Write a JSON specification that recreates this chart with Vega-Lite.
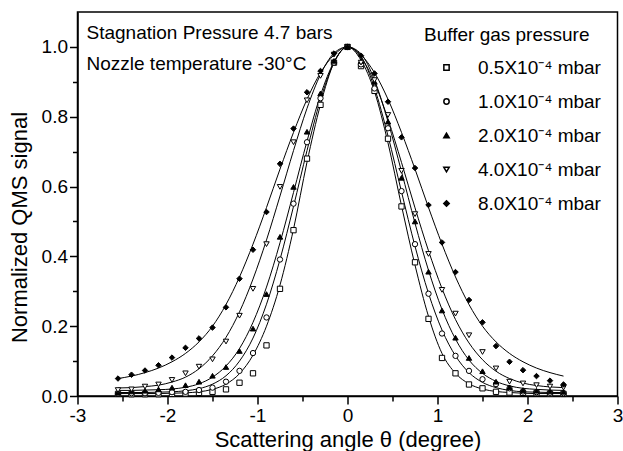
{
 "$schema": "https://vega.github.io/schema/vega-lite/v6.json",
 "width": 540,
 "height": 384,
 "autosize": {"type": "none"},
 "padding": {"left": 77.5, "top": 12, "right": 5.5, "bottom": 55},
 "background": "white",
 "config": {
  "font": "Liberation Sans",
  "view": {"stroke": "black", "strokeWidth": 1.5},
  "axis": {"grid": false, "domainColor": "black", "tickColor": "black", "labelColor": "black", "titleColor": "black", "labelFont": "Liberation Sans", "titleFont": "Liberation Sans", "titleFontWeight": "normal", "domainWidth": 1.5, "tickWidth": 1.5, "labelFlush": false, "labelOverlap": false},
  "legend": {"title": "Buffer gas pressure", "titleFontSize": 19, "titleFontWeight": "normal", "titleFont": "Liberation Sans", "titleColor": "black", "labelFontSize": 19, "labelFont": "Liberation Sans", "labelColor": "black", "rowPadding": 14, "titlePadding": 13, "symbolOffset": 13, "labelOffset": 22}
 },
 "data": {"values": [
  {"series":"0.5X10⁻⁴ mbar","angle":-2.55,"signal":0.006,"fit":0.007},
  {"series":"0.5X10⁻⁴ mbar","angle":-2.4,"signal":0.005,"fit":0.007},
  {"series":"0.5X10⁻⁴ mbar","angle":-2.25,"signal":0.005,"fit":0.007},
  {"series":"0.5X10⁻⁴ mbar","angle":-2.1,"signal":0.005,"fit":0.007},
  {"series":"0.5X10⁻⁴ mbar","angle":-1.95,"signal":0.006,"fit":0.008},
  {"series":"0.5X10⁻⁴ mbar","angle":-1.8,"signal":0.007,"fit":0.009},
  {"series":"0.5X10⁻⁴ mbar","angle":-1.65,"signal":0.009,"fit":0.012},
  {"series":"0.5X10⁻⁴ mbar","angle":-1.5,"signal":0.012,"fit":0.019},
  {"series":"0.5X10⁻⁴ mbar","angle":-1.35,"signal":0.019,"fit":0.034},
  {"series":"0.5X10⁻⁴ mbar","angle":-1.2,"signal":0.038,"fit":0.064},
  {"series":"0.5X10⁻⁴ mbar","angle":-1.05,"signal":0.065,"fit":0.117},
  {"series":"0.5X10⁻⁴ mbar","angle":-0.9,"signal":0.145,"fit":0.2},
  {"series":"0.5X10⁻⁴ mbar","angle":-0.75,"signal":0.307,"fit":0.318},
  {"series":"0.5X10⁻⁴ mbar","angle":-0.6,"signal":0.475,"fit":0.478},
  {"series":"0.5X10⁻⁴ mbar","angle":-0.45,"signal":0.68,"fit":0.67},
  {"series":"0.5X10⁻⁴ mbar","angle":-0.3,"signal":0.834,"fit":0.835},
  {"series":"0.5X10⁻⁴ mbar","angle":-0.15,"signal":0.955,"fit":0.955},
  {"series":"0.5X10⁻⁴ mbar","angle":0,"signal":1.0,"fit":1.0},
  {"series":"0.5X10⁻⁴ mbar","angle":0.15,"signal":0.945,"fit":0.962},
  {"series":"0.5X10⁻⁴ mbar","angle":0.3,"signal":0.874,"fit":0.872},
  {"series":"0.5X10⁻⁴ mbar","angle":0.45,"signal":0.737,"fit":0.725},
  {"series":"0.5X10⁻⁴ mbar","angle":0.6,"signal":0.543,"fit":0.545},
  {"series":"0.5X10⁻⁴ mbar","angle":0.75,"signal":0.383,"fit":0.375},
  {"series":"0.5X10⁻⁴ mbar","angle":0.9,"signal":0.221,"fit":0.228},
  {"series":"0.5X10⁻⁴ mbar","angle":1.05,"signal":0.109,"fit":0.122},
  {"series":"0.5X10⁻⁴ mbar","angle":1.2,"signal":0.065,"fit":0.065},
  {"series":"0.5X10⁻⁴ mbar","angle":1.35,"signal":0.033,"fit":0.035},
  {"series":"0.5X10⁻⁴ mbar","angle":1.5,"signal":0.022,"fit":0.02},
  {"series":"0.5X10⁻⁴ mbar","angle":1.65,"signal":0.012,"fit":0.013},
  {"series":"0.5X10⁻⁴ mbar","angle":1.8,"signal":0.01,"fit":0.01},
  {"series":"0.5X10⁻⁴ mbar","angle":1.95,"signal":0.009,"fit":0.008},
  {"series":"0.5X10⁻⁴ mbar","angle":2.1,"signal":0.008,"fit":0.007},
  {"series":"0.5X10⁻⁴ mbar","angle":2.25,"signal":0.007,"fit":0.007},
  {"series":"0.5X10⁻⁴ mbar","angle":2.4,"signal":0.006,"fit":0.007},

  {"series":"1.0X10⁻⁴ mbar","angle":-2.55,"signal":0.008,"fit":0.01},
  {"series":"1.0X10⁻⁴ mbar","angle":-2.4,"signal":0.008,"fit":0.01},
  {"series":"1.0X10⁻⁴ mbar","angle":-2.25,"signal":0.008,"fit":0.01},
  {"series":"1.0X10⁻⁴ mbar","angle":-2.1,"signal":0.009,"fit":0.011},
  {"series":"1.0X10⁻⁴ mbar","angle":-1.95,"signal":0.011,"fit":0.012},
  {"series":"1.0X10⁻⁴ mbar","angle":-1.8,"signal":0.012,"fit":0.015},
  {"series":"1.0X10⁻⁴ mbar","angle":-1.65,"signal":0.017,"fit":0.021},
  {"series":"1.0X10⁻⁴ mbar","angle":-1.5,"signal":0.024,"fit":0.034},
  {"series":"1.0X10⁻⁴ mbar","angle":-1.35,"signal":0.041,"fit":0.058},
  {"series":"1.0X10⁻⁴ mbar","angle":-1.2,"signal":0.072,"fit":0.1},
  {"series":"1.0X10⁻⁴ mbar","angle":-1.05,"signal":0.123,"fit":0.166},
  {"series":"1.0X10⁻⁴ mbar","angle":-0.9,"signal":0.225,"fit":0.263},
  {"series":"1.0X10⁻⁴ mbar","angle":-0.75,"signal":0.391,"fit":0.391},
  {"series":"1.0X10⁻⁴ mbar","angle":-0.6,"signal":0.551,"fit":0.543},
  {"series":"1.0X10⁻⁴ mbar","angle":-0.45,"signal":0.727,"fit":0.703},
  {"series":"1.0X10⁻⁴ mbar","angle":-0.3,"signal":0.853,"fit":0.849},
  {"series":"1.0X10⁻⁴ mbar","angle":-0.15,"signal":0.955,"fit":0.955},
  {"series":"1.0X10⁻⁴ mbar","angle":0,"signal":1.0,"fit":1.0},
  {"series":"1.0X10⁻⁴ mbar","angle":0.15,"signal":0.95,"fit":0.973},
  {"series":"1.0X10⁻⁴ mbar","angle":0.3,"signal":0.881,"fit":0.882},
  {"series":"1.0X10⁻⁴ mbar","angle":0.45,"signal":0.767,"fit":0.745},
  {"series":"1.0X10⁻⁴ mbar","angle":0.6,"signal":0.587,"fit":0.585},
  {"series":"1.0X10⁻⁴ mbar","angle":0.75,"signal":0.435,"fit":0.429},
  {"series":"1.0X10⁻⁴ mbar","angle":0.9,"signal":0.293,"fit":0.294},
  {"series":"1.0X10⁻⁴ mbar","angle":1.05,"signal":0.179,"fit":0.189},
  {"series":"1.0X10⁻⁴ mbar","angle":1.2,"signal":0.115,"fit":0.115},
  {"series":"1.0X10⁻⁴ mbar","angle":1.35,"signal":0.072,"fit":0.067},
  {"series":"1.0X10⁻⁴ mbar","angle":1.5,"signal":0.048,"fit":0.039},
  {"series":"1.0X10⁻⁴ mbar","angle":1.65,"signal":0.034,"fit":0.024},
  {"series":"1.0X10⁻⁴ mbar","angle":1.8,"signal":0.022,"fit":0.016},
  {"series":"1.0X10⁻⁴ mbar","angle":1.95,"signal":0.013,"fit":0.012},
  {"series":"1.0X10⁻⁴ mbar","angle":2.1,"signal":0.011,"fit":0.011},
  {"series":"1.0X10⁻⁴ mbar","angle":2.25,"signal":0.009,"fit":0.01},
  {"series":"1.0X10⁻⁴ mbar","angle":2.4,"signal":0.008,"fit":0.01},

  {"series":"2.0X10⁻⁴ mbar","angle":-2.55,"signal":0.011,"fit":0.016},
  {"series":"2.0X10⁻⁴ mbar","angle":-2.4,"signal":0.013,"fit":0.016},
  {"series":"2.0X10⁻⁴ mbar","angle":-2.25,"signal":0.015,"fit":0.017},
  {"series":"2.0X10⁻⁴ mbar","angle":-2.1,"signal":0.019,"fit":0.018},
  {"series":"2.0X10⁻⁴ mbar","angle":-1.95,"signal":0.024,"fit":0.02},
  {"series":"2.0X10⁻⁴ mbar","angle":-1.8,"signal":0.031,"fit":0.025},
  {"series":"2.0X10⁻⁴ mbar","angle":-1.65,"signal":0.041,"fit":0.035},
  {"series":"2.0X10⁻⁴ mbar","angle":-1.5,"signal":0.058,"fit":0.054},
  {"series":"2.0X10⁻⁴ mbar","angle":-1.35,"signal":0.083,"fit":0.086},
  {"series":"2.0X10⁻⁴ mbar","angle":-1.2,"signal":0.129,"fit":0.136},
  {"series":"2.0X10⁻⁴ mbar","angle":-1.05,"signal":0.193,"fit":0.211},
  {"series":"2.0X10⁻⁴ mbar","angle":-0.9,"signal":0.292,"fit":0.312},
  {"series":"2.0X10⁻⁴ mbar","angle":-0.75,"signal":0.456,"fit":0.439},
  {"series":"2.0X10⁻⁴ mbar","angle":-0.6,"signal":0.599,"fit":0.583},
  {"series":"2.0X10⁻⁴ mbar","angle":-0.45,"signal":0.757,"fit":0.73},
  {"series":"2.0X10⁻⁴ mbar","angle":-0.3,"signal":0.867,"fit":0.862},
  {"series":"2.0X10⁻⁴ mbar","angle":-0.15,"signal":0.96,"fit":0.957},
  {"series":"2.0X10⁻⁴ mbar","angle":0,"signal":1.0,"fit":1.0},
  {"series":"2.0X10⁻⁴ mbar","angle":0.15,"signal":0.96,"fit":0.98},
  {"series":"2.0X10⁻⁴ mbar","angle":0.3,"signal":0.9,"fit":0.905},
  {"series":"2.0X10⁻⁴ mbar","angle":0.45,"signal":0.786,"fit":0.786},
  {"series":"2.0X10⁻⁴ mbar","angle":0.6,"signal":0.625,"fit":0.643},
  {"series":"2.0X10⁻⁴ mbar","angle":0.75,"signal":0.5,"fit":0.495},
  {"series":"2.0X10⁻⁴ mbar","angle":0.9,"signal":0.356,"fit":0.36},
  {"series":"2.0X10⁻⁴ mbar","angle":1.05,"signal":0.245,"fit":0.248},
  {"series":"2.0X10⁻⁴ mbar","angle":1.2,"signal":0.167,"fit":0.163},
  {"series":"2.0X10⁻⁴ mbar","angle":1.35,"signal":0.109,"fit":0.103},
  {"series":"2.0X10⁻⁴ mbar","angle":1.5,"signal":0.071,"fit":0.065},
  {"series":"2.0X10⁻⁴ mbar","angle":1.65,"signal":0.041,"fit":0.042},
  {"series":"2.0X10⁻⁴ mbar","angle":1.8,"signal":0.025,"fit":0.029},
  {"series":"2.0X10⁻⁴ mbar","angle":1.95,"signal":0.017,"fit":0.022},
  {"series":"2.0X10⁻⁴ mbar","angle":2.1,"signal":0.015,"fit":0.019},
  {"series":"2.0X10⁻⁴ mbar","angle":2.25,"signal":0.013,"fit":0.017},
  {"series":"2.0X10⁻⁴ mbar","angle":2.4,"signal":0.012,"fit":0.016},

  {"series":"4.0X10⁻⁴ mbar","angle":-2.55,"signal":0.017,"fit":0.023},
  {"series":"4.0X10⁻⁴ mbar","angle":-2.4,"signal":0.019,"fit":0.024},
  {"series":"4.0X10⁻⁴ mbar","angle":-2.25,"signal":0.027,"fit":0.027},
  {"series":"4.0X10⁻⁴ mbar","angle":-2.1,"signal":0.033,"fit":0.031},
  {"series":"4.0X10⁻⁴ mbar","angle":-1.95,"signal":0.046,"fit":0.04},
  {"series":"4.0X10⁻⁴ mbar","angle":-1.8,"signal":0.065,"fit":0.054},
  {"series":"4.0X10⁻⁴ mbar","angle":-1.65,"signal":0.084,"fit":0.078},
  {"series":"4.0X10⁻⁴ mbar","angle":-1.5,"signal":0.105,"fit":0.115},
  {"series":"4.0X10⁻⁴ mbar","angle":-1.35,"signal":0.156,"fit":0.168},
  {"series":"4.0X10⁻⁴ mbar","angle":-1.2,"signal":0.23,"fit":0.241},
  {"series":"4.0X10⁻⁴ mbar","angle":-1.05,"signal":0.307,"fit":0.335},
  {"series":"4.0X10⁻⁴ mbar","angle":-0.9,"signal":0.435,"fit":0.447},
  {"series":"4.0X10⁻⁴ mbar","angle":-0.75,"signal":0.599,"fit":0.573},
  {"series":"4.0X10⁻⁴ mbar","angle":-0.6,"signal":0.727,"fit":0.703},
  {"series":"4.0X10⁻⁴ mbar","angle":-0.45,"signal":0.847,"fit":0.824},
  {"series":"4.0X10⁻⁴ mbar","angle":-0.3,"signal":0.917,"fit":0.921},
  {"series":"4.0X10⁻⁴ mbar","angle":-0.15,"signal":0.978,"fit":0.982},
  {"series":"4.0X10⁻⁴ mbar","angle":0,"signal":1.0,"fit":1.0},
  {"series":"4.0X10⁻⁴ mbar","angle":0.15,"signal":0.955,"fit":0.97},
  {"series":"4.0X10⁻⁴ mbar","angle":0.3,"signal":0.905,"fit":0.898},
  {"series":"4.0X10⁻⁴ mbar","angle":0.45,"signal":0.805,"fit":0.793},
  {"series":"4.0X10⁻⁴ mbar","angle":0.6,"signal":0.645,"fit":0.669},
  {"series":"4.0X10⁻⁴ mbar","angle":0.75,"signal":0.521,"fit":0.539},
  {"series":"4.0X10⁻⁴ mbar","angle":0.9,"signal":0.407,"fit":0.416},
  {"series":"4.0X10⁻⁴ mbar","angle":1.05,"signal":0.304,"fit":0.308},
  {"series":"4.0X10⁻⁴ mbar","angle":1.2,"signal":0.236,"fit":0.219},
  {"series":"4.0X10⁻⁴ mbar","angle":1.35,"signal":0.174,"fit":0.152},
  {"series":"4.0X10⁻⁴ mbar","angle":1.5,"signal":0.126,"fit":0.104},
  {"series":"4.0X10⁻⁴ mbar","angle":1.65,"signal":0.079,"fit":0.071},
  {"series":"4.0X10⁻⁴ mbar","angle":1.8,"signal":0.041,"fit":0.05},
  {"series":"4.0X10⁻⁴ mbar","angle":1.95,"signal":0.036,"fit":0.037},
  {"series":"4.0X10⁻⁴ mbar","angle":2.1,"signal":0.031,"fit":0.03},
  {"series":"4.0X10⁻⁴ mbar","angle":2.25,"signal":0.027,"fit":0.026},
  {"series":"4.0X10⁻⁴ mbar","angle":2.4,"signal":0.024,"fit":0.024},

  {"series":"8.0X10⁻⁴ mbar","angle":-2.55,"signal":0.05,"fit":0.05},
  {"series":"8.0X10⁻⁴ mbar","angle":-2.4,"signal":0.061,"fit":0.057},
  {"series":"8.0X10⁻⁴ mbar","angle":-2.25,"signal":0.073,"fit":0.067},
  {"series":"8.0X10⁻⁴ mbar","angle":-2.1,"signal":0.088,"fit":0.08},
  {"series":"8.0X10⁻⁴ mbar","angle":-1.95,"signal":0.11,"fit":0.098},
  {"series":"8.0X10⁻⁴ mbar","angle":-1.8,"signal":0.138,"fit":0.122},
  {"series":"8.0X10⁻⁴ mbar","angle":-1.65,"signal":0.165,"fit":0.155},
  {"series":"8.0X10⁻⁴ mbar","angle":-1.5,"signal":0.196,"fit":0.2},
  {"series":"8.0X10⁻⁴ mbar","angle":-1.35,"signal":0.254,"fit":0.262},
  {"series":"8.0X10⁻⁴ mbar","angle":-1.2,"signal":0.336,"fit":0.341},
  {"series":"8.0X10⁻⁴ mbar","angle":-1.05,"signal":0.419,"fit":0.435},
  {"series":"8.0X10⁻⁴ mbar","angle":-0.9,"signal":0.527,"fit":0.54},
  {"series":"8.0X10⁻⁴ mbar","angle":-0.75,"signal":0.665,"fit":0.65},
  {"series":"8.0X10⁻⁴ mbar","angle":-0.6,"signal":0.766,"fit":0.755},
  {"series":"8.0X10⁻⁴ mbar","angle":-0.45,"signal":0.87,"fit":0.85},
  {"series":"8.0X10⁻⁴ mbar","angle":-0.3,"signal":0.931,"fit":0.926},
  {"series":"8.0X10⁻⁴ mbar","angle":-0.15,"signal":0.981,"fit":0.977},
  {"series":"8.0X10⁻⁴ mbar","angle":0,"signal":1.0,"fit":1.0},
  {"series":"8.0X10⁻⁴ mbar","angle":0.15,"signal":0.975,"fit":0.977},
  {"series":"8.0X10⁻⁴ mbar","angle":0.3,"signal":0.924,"fit":0.926},
  {"series":"8.0X10⁻⁴ mbar","angle":0.45,"signal":0.843,"fit":0.85},
  {"series":"8.0X10⁻⁴ mbar","angle":0.6,"signal":0.741,"fit":0.755},
  {"series":"8.0X10⁻⁴ mbar","angle":0.75,"signal":0.653,"fit":0.65},
  {"series":"8.0X10⁻⁴ mbar","angle":0.9,"signal":0.547,"fit":0.54},
  {"series":"8.0X10⁻⁴ mbar","angle":1.05,"signal":0.44,"fit":0.435},
  {"series":"8.0X10⁻⁴ mbar","angle":1.2,"signal":0.355,"fit":0.341},
  {"series":"8.0X10⁻⁴ mbar","angle":1.35,"signal":0.275,"fit":0.262},
  {"series":"8.0X10⁻⁴ mbar","angle":1.5,"signal":0.211,"fit":0.2},
  {"series":"8.0X10⁻⁴ mbar","angle":1.65,"signal":0.143,"fit":0.155},
  {"series":"8.0X10⁻⁴ mbar","angle":1.8,"signal":0.098,"fit":0.122},
  {"series":"8.0X10⁻⁴ mbar","angle":1.95,"signal":0.074,"fit":0.098},
  {"series":"8.0X10⁻⁴ mbar","angle":2.1,"signal":0.057,"fit":0.08},
  {"series":"8.0X10⁻⁴ mbar","angle":2.25,"signal":0.044,"fit":0.067},
  {"series":"8.0X10⁻⁴ mbar","angle":2.4,"signal":0.033,"fit":0.057}
 ]},
 "resolve": {"axis": {"x": "independent", "y": "independent"}},
 "layer": [
  {
   "mark": {"type": "line", "color": "black", "strokeWidth": 1, "interpolate": "monotone"},
   "encoding": {
    "x": {"field": "angle", "type": "quantitative", "scale": {"domain": [-3, 3]},
          "axis": {"orient": "bottom", "values": [-2.5, -1.5, -0.5, 0.5, 1.5, 2.5], "labels": false, "domain": false, "tickSize": 5, "title": null}},
    "y": {"field": "fit", "type": "quantitative", "scale": {"domain": [0, 1.09]},
          "axis": {"orient": "left", "values": [0.1, 0.3, 0.5, 0.7, 0.9], "labels": false, "domain": false, "tickSize": 5, "title": null}},
    "detail": {"field": "series", "type": "nominal"}
   }
  },
  {
   "mark": {"type": "point", "filled": true, "stroke": "black", "strokeWidth": 1, "opacity": 1},
   "encoding": {
    "x": {"field": "angle", "type": "quantitative", "scale": {"domain": [-3, 3]},
          "axis": {"orient": "bottom", "values": [-3, -2, -1, 0, 1, 2, 3], "labelExpr": "'' + datum.value", "tickSize": 8, "labelPadding": 2, "labelFontSize": 19, "title": "Scattering angle θ (degree)", "titleFontSize": 22, "titlePadding": 4}},
    "y": {"field": "signal", "type": "quantitative", "scale": {"domain": [0, 1.09]},
          "axis": {"orient": "left", "values": [0, 0.2, 0.4, 0.6, 0.8, 1.0], "format": ".1f", "tickSize": 8, "labelPadding": 2, "labelFontSize": 19, "title": "Normalized QMS signal", "titleFontSize": 22, "titlePadding": 10, "titleY": 215}},
    "shape": {"field": "series", "type": "nominal",
              "scale": {"domain": ["0.5X10⁻⁴ mbar", "1.0X10⁻⁴ mbar", "2.0X10⁻⁴ mbar", "4.0X10⁻⁴ mbar", "8.0X10⁻⁴ mbar"], "range": ["square", "circle", "triangle-up", "triangle-down", "diamond"]},
              "legend": {"title": "Buffer gas pressure", "orient": "none", "legendX": 346.5, "legendY": 14, "encode": {"symbols": {"stroke": {"value": "black"}, "strokeWidth": {"value": 1}}}}},
    "fill": {"field": "series", "type": "nominal",
             "scale": {"domain": ["0.5X10⁻⁴ mbar", "1.0X10⁻⁴ mbar", "2.0X10⁻⁴ mbar", "4.0X10⁻⁴ mbar", "8.0X10⁻⁴ mbar"], "range": ["white", "white", "black", "white", "black"]},
             "legend": {"title": "Buffer gas pressure", "orient": "none", "legendX": 346.5, "legendY": 14, "encode": {"symbols": {"stroke": {"value": "black"}, "strokeWidth": {"value": 1}}}}},
    "size": {"field": "series", "type": "nominal",
             "scale": {"domain": ["0.5X10⁻⁴ mbar", "1.0X10⁻⁴ mbar", "2.0X10⁻⁴ mbar", "4.0X10⁻⁴ mbar", "8.0X10⁻⁴ mbar"], "range": [28, 30, 40, 40, 56]},
             "legend": {"title": "Buffer gas pressure", "orient": "none", "legendX": 346.5, "legendY": 14, "encode": {"symbols": {"stroke": {"value": "black"}, "strokeWidth": {"value": 1}}}}}
   }
  },
  {
   "data": {"values": [{}]},
   "mark": {"type": "text", "align": "left", "baseline": "alphabetic", "fontSize": 19, "font": "Liberation Sans", "color": "black"},
   "encoding": {
    "x": {"datum": -2.9, "type": "quantitative", "axis": null},
    "y": {"datum": 1.022, "type": "quantitative", "axis": null},
    "text": {"value": "Stagnation Pressure 4.7 bars"}
   }
  },
  {
   "data": {"values": [{}]},
   "mark": {"type": "text", "align": "left", "baseline": "alphabetic", "fontSize": 19, "font": "Liberation Sans", "color": "black"},
   "encoding": {
    "x": {"datum": -2.9, "type": "quantitative", "axis": null},
    "y": {"datum": 0.934, "type": "quantitative", "axis": null},
    "text": {"value": "Nozzle temperature -30°C"}
   }
  }
 ]
}
